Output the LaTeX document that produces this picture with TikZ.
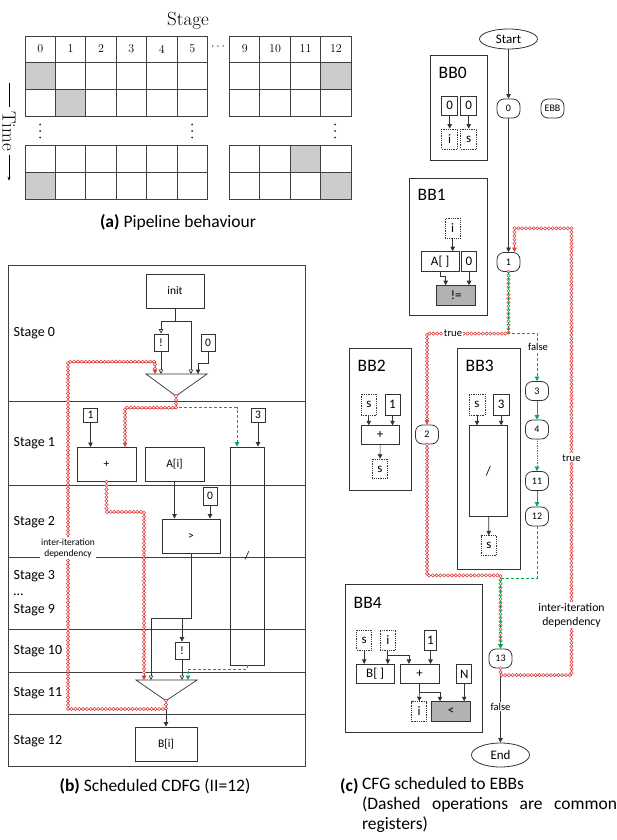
\documentclass[tikz,border=0pt]{standalone}
\usepackage{fontspec}
\setsansfont{Carlito}
\usepackage{tikz}
\usetikzlibrary{arrows.meta,shapes.geometric,decorations.markings,calc}

\definecolor{deprd}{RGB}{222,60,60}
\definecolor{flowgr}{RGB}{0,168,80}

\tikzset{
  wire/.style={draw=black!80, line width=0.7pt},
  tri/.style={-{Triangle[length=4.5pt,width=4.5pt]}},
  otri/.style={-{Triangle[open,length=4.5pt,width=4.5pt]}},
  dep/.style={draw=deprd, line width=0.4pt, -{Triangle[length=4.5pt,width=4.5pt]},
    decoration={markings, mark=between positions 0 and -5pt step 3.8pt with
      {\draw[deprd, fill=white, line width=0.55pt] (0,0) circle (1.65pt);}},
    postaction={decorate}},
  flow/.style={draw=flowgr, line width=0.7pt, dash pattern=on 3pt off 2pt,
    -{Triangle[length=4.5pt,width=4.5pt]}},
}

\begin{document}
\begin{tikzpicture}[x=1pt, y=-1pt, font=\sffamily, line width=0.8pt,
  cell/.style={draw=black!75, line width=0.9pt},
  hdr/.style={font=\rmfamily\fontsize{12}{14}\selectfont},
  frame/.style={draw=black!75, line width=0.9pt},
  stagelab/.style={anchor=west, font=\sffamily\fontsize{14}{16}\selectfont},
  opb/.style={draw=black!80, inner sep=0pt, font=\sffamily\fontsize{11.5}{13}\selectfont},
  reg/.style={draw=black!80, inner sep=0pt, font=\sffamily\fontsize{13}{14}\selectfont},
  creg/.style={reg, densely dotted},
  greyop/.style={reg, fill=gray!60},
  ebbnode/.style={draw=black!80, rounded corners=7pt, minimum width=23pt, minimum height=19pt,
    inner sep=0pt, font=\sffamily\fontsize{10}{11}\selectfont},
  termnode/.style={ellipse, draw=black!80, minimum width=58pt, minimum height=20pt,
    inner sep=0pt, font=\sffamily\fontsize{13}{14}\selectfont},
  bblab/.style={anchor=west, font=\sffamily\fontsize{17.5}{19}\selectfont},
  lab/.style={fill=white, inner sep=1pt, font=\sffamily\fontsize{10.6}{12}\selectfont},
  caption/.style={font=\sffamily\fontsize{17.5}{20}\selectfont}]

\useasboundingbox (0,0) rectangle (617,840);

%%%% (a) pipeline table
\node[font=\rmfamily\fontsize{19}{21}\selectfont] (stagetitle) at (188,21) {Stage};

 \def\cw{30.4};
 \def\rh{27.3};
 \def\cx{25};
    % shaded cells
    \foreach \bx/\i/\y in {25/0/62, 25/1/89.3, 229.5/3/62, 229.5/2/145, 25/0/172.3, 229.5/3/172.3}{
        \fill[gray!40] (\bx+\i*\cw,\y) rectangle (\bx+\i*\cw+\cw,\y+\rh);
    }
    \foreach \i/\num in {0/0,1/1,2/2,3/3,4/4,5/5}{
        \draw[cell] (\cx+\i*\cw,36) rectangle (\cx+\i*\cw+\cw,62);
        \node[hdr] (hl\num) at (\cx+\i*\cw+\cw/2,49) {\num};
        \foreach \y in {62,89.3,145,172.3}
            \draw[cell] (\cx+\i*\cw,\y) rectangle (\cx+\i*\cw+\cw,\y+\rh);
    }

 \def\cx{229.5};
    \foreach \i/\num in {0/9,1/10,2/11,3/12}{
        \draw[cell] (\cx+\i*\cw,36) rectangle (\cx+\i*\cw+\cw,62);
        \node[hdr] (hr\num) at (\cx+\i*\cw+\cw/2,49) {\num};
        \foreach \y in {62,89.3,145,172.3}
            \draw[cell] (\cx+\i*\cw,\y) rectangle (\cx+\i*\cw+\cw,\y+\rh);
    }

\node[hdr] (hdots) at (218,47) {$\cdots$};
% vertical dots
\foreach \x in {40,192,335}
    \foreach \y in {124.5,131,137.5}
        \fill[black!85] (\x,\y) circle (1pt);

\node[font=\rmfamily\fontsize{19}{21}\selectfont, rotate=-90] (time) at (9,131) {Time};
\draw[line width=0.6pt] (time.west) -- ++(0,-24);
\draw[line width=0.6pt, -{Stealth[length=4pt]}] (time.east) -- ++(0,26);

\node[caption] (capA) at (178,222) {\textbf{(a)} Pipeline behaviour};

%%%% (b) scheduled CDFG
\draw[frame] (8,265.7) rectangle (305,766);
\foreach \y in {401,485,557.7,629,672,714}
    \draw[frame] (8,\y) -- (305,\y);
\foreach \k/\y/\txt in {0/333/Stage 0,1/443/Stage 1,2/522/Stage 2,3/576/Stage 3,4/595/{\ldots},9/610/Stage 9,10/651/Stage 10,11/693/Stage 11,12/741/Stage 12}
    \node[stagelab] (st\k) at (10,\y) {\txt};

\node[opb, minimum width=58pt, minimum height=34pt] (init) at (175,291) {init};
\node[opb, minimum width=14pt, minimum height=17pt] (notA) at (161,342.5) {!};
\node[opb, minimum width=14pt, minimum height=17pt] (zeroA) at (208,342.5) {0};

%mux of stage 0
\coordinate (muxA) at (176,396);
\draw[wire] (146,374) -- (207,374) -- (muxA) -- cycle;
\coordinate (muxAi1) at (155,374);
\coordinate (muxAi2) at (161,374);
\coordinate (muxAi3) at (191,374);
\coordinate (muxAi4) at (198,374);

\node[opb, minimum width=14pt, minimum height=14pt] (oneB) at (90.5,415) {1};
\node[opb, minimum width=59pt, minimum height=34pt] (addB) at (106.5,464.5) {+};
\node[opb, minimum width=59pt, minimum height=34pt] (loadA) at (174.5,464.5) {A[i]};
\node[opb, minimum width=14pt, minimum height=14pt] (threeB) at (258,415) {3};
\node[opb, minimum width=34pt, minimum height=218pt] (divB) at (247,556) {/};
\node[opb, minimum width=14pt, minimum height=18pt] (zeroB) at (210,496) {0};
\node[opb, minimum width=58pt, minimum height=34pt] (gtB) at (191,536) {>};
\node[opb, minimum width=14pt, minimum height=17pt] (notB) at (182,650.5) {!};
\node[opb, minimum width=62pt, minimum height=34pt] (storeB) at (166,744) {B[i]};

%mux of stage 11
\coordinate (muxB) at (166,700.7);
\draw[wire] (136,680) -- (197,680) -- (muxB) -- cycle;
\coordinate (muxBi1) at (144,680);
\coordinate (muxBi2) at (151,680);
\coordinate (muxBi3) at (182,680);
\coordinate (muxBi4) at (188,680);

\draw[wire,otri] (init.south) -- ++(0,13) -| (notA.north);
\draw[wire,otri] (init.south) -- ++(0,13) -| (muxAi3);
\draw[wire,otri] (notA) -- (muxAi2);
\draw[wire,tri] (zeroA.south) -- ++(0,12) -| (muxAi4);
\draw[wire,tri] (oneB) -- (oneB |- addB.north);
\draw[wire,tri] (threeB) -- (threeB |- divB.north);
\draw[wire,tri] (loadA.south) -- (loadA.south |- gtB.north);
\draw[wire,tri] (zeroB) -- (zeroB |- gtB.north);
\draw[wire,otri] (gtB.south) -- ++(0,65) -| (muxBi2);
\draw[wire,tri] (gtB.south) -- ++(0,65) -| (notB.north);
\draw[wire,otri] (notB) -- (muxBi3);
\draw[wire,tri] (muxB) -- (storeB);

\draw[flow] (muxA) -- ++(0,11.7) -| ([xshift=-10pt]divB.north);
\draw[flow] (divB.south) -- ++(0,4) -| (muxBi4);
\draw[dep] (muxA) -- ++(0,11.7) -| ([xshift=18.5pt]addB.north);
\draw[dep] (addB.south) -- ++(0,30) -| (muxBi1);
\draw[dep] (muxB) -- ++(0,8.3) -| (68,361.7) -| (muxAi1);

\node[lab, align=center, font=\sffamily\fontsize{9.5}{11}\selectfont] (itdepB) at (68,548) {inter-iteration\\dependency};

\node[caption] (capB) at (155,786) {\textbf{(b)} Scheduled CDFG (II=12)};

%%%% (c) CFG with EBBs
% basic blocks
\draw[wire] (430.7,55.3) rectangle (487.7,160);
\node[bblab] (lbb0) at (435,72.7) {BB0};
\node[reg, minimum width=16pt, minimum height=19pt] (zi0) at (449.7,105.5) {0};
\node[reg, minimum width=16pt, minimum height=19pt] (zs0) at (468.7,105.5) {0};
\node[creg, minimum width=16pt, minimum height=20pt] (ri0) at (449.7,139) {i};
\node[creg, minimum width=16pt, minimum height=20pt] (rs0) at (468.7,139) {s};
\draw[wire,tri] (zi0) -- (ri0);
\draw[wire,tri] (zs0) -- (rs0);

\draw[wire] (409.3,178.3) rectangle (487.7,315.7);
\node[bblab] (lbb1) at (414,195) {BB1};
\node[creg, minimum width=15pt, minimum height=20pt] (ri1) at (452.7,228.3) {i};
\node[reg, minimum width=38pt, minimum height=19.4pt] (arr1) at (440.2,261.3) {A[ ]};
\node[reg, minimum width=15.4pt, minimum height=19.4pt] (z1) at (469,261.3) {0};
\node[greyop, minimum width=39pt, minimum height=19.4pt] (ne1) at (456.2,295.3) {!=};
\draw[wire,tri] (ri1) -- (ri1 |- arr1.north);
\draw[wire,tri] (arr1.south) -- ++(0,5) -| ([xshift=-10.5pt]ne1.north);
\draw[wire,tri] (z1) -- (z1 |- ne1.north);

\draw[wire] (349.3,348.3) rectangle (411.7,490);
\node[bblab] (lbb2) at (354,365.7) {BB2};
\node[creg, minimum width=15.7pt, minimum height=21pt] (rs2) at (368.8,404.5) {s};
\node[reg, minimum width=15pt, minimum height=21pt] (one2) at (392.5,404.5) {1};
\node[reg, minimum width=38.3pt, minimum height=18.6pt] (add2) at (380.2,435) {+};
\node[creg, minimum width=15.4pt, minimum height=19.7pt] (rs2b) at (380,469) {s};
\draw[wire,tri] (rs2) -- (rs2 |- add2.north);
\draw[wire,tri] (one2) -- (one2 |- add2.north);
\draw[wire,tri] (add2) -- (rs2b);

\draw[wire] (457.7,348.3) rectangle (520.7,569.3);
\node[bblab] (lbb3) at (462,365.7) {BB3};
\node[creg, minimum width=16pt, minimum height=21pt] (rs3) at (477,404.5) {s};
\node[reg, minimum width=15.7pt, minimum height=21pt] (three3) at (501.2,404.5) {3};
\node[reg, minimum width=38.4pt, minimum height=91pt] (div3) at (488.5,471.2) {/};
\node[creg, minimum width=15.7pt, minimum height=19.3pt] (rs3b) at (488.8,545.3) {s};
\draw[wire,tri] (rs3) -- (rs3 |- div3.north);
\draw[wire,tri] (three3) -- (three3 |- div3.north);
\draw[wire,tri] (div3) -- (rs3b);

\draw[wire] (345,584) rectangle (482.7,732.3);
\node[bblab] (lbb4) at (350,602.7) {BB4};
\node[creg, minimum width=15pt, minimum height=20pt] (rs4) at (364.2,640) {s};
\node[creg, minimum width=15.7pt, minimum height=20pt] (ri4) at (387.8,640) {i};
\node[reg, minimum width=12pt, minimum height=20pt] (one4) at (430.5,640) {1};
\node[reg, minimum width=38.3pt, minimum height=19pt] (str4) at (375.2,673.8) {B[ ]};
\node[reg, minimum width=39pt, minimum height=19pt] (add4) at (419.5,673.8) {+};
\node[reg, minimum width=15pt, minimum height=18.3pt] (nn4) at (464.2,674) {N};
\node[creg, minimum width=15pt, minimum height=19.3pt] (ri4b) at (419.2,711.3) {i};
\node[greyop, minimum width=39pt, minimum height=19.3pt] (lt4) at (451.2,711.3) {<};
\draw[wire,tri] (rs4) -- (rs4 |- str4.north);
\draw[wire,tri] (ri4) -- (ri4 |- str4.north);
\draw[wire,tri] (ri4.south) -- ++(0,5) -| ([xshift=-10.5pt]add4.north);
\draw[wire,tri] (one4) -- (one4 |- add4.north);
\draw[wire,tri] (add4) -- (ri4b);
\draw[wire,tri] (add4.south) -- ++(0,8.5) -| ([xshift=-11.2pt]lt4.north);
\draw[wire,tri] (nn4) -- (nn4 |- lt4.north);

% EBB control flow
\node[termnode] (start) at (508.5,39) {Start};
\node[ebbnode] (n0) at (508.5,108.5) {0};
\node[ebbnode] (ebb) at (552.5,108.5) {EBB};
\node[ebbnode] (n1) at (508.5,262) {1};
\node[ebbnode] (n2) at (427,434.5) {2};
\node[ebbnode] (n3) at (537,391) {3};
\node[ebbnode] (n4) at (537,429.5) {4};
\node[ebbnode] (n11) at (537,481) {11};
\node[ebbnode] (n12) at (537,516.5) {12};
\node[ebbnode] (n13) at (500.5,658.5) {13};
\node[termnode, minimum height=24pt] (end) at (500.5,755) {End};

\draw[wire,tri] (start) -- (n0);
\draw[wire,tri] (n0) -- (n1);
\draw[wire,tri] (n13) -- (end);

\draw[dep] (n1.south) -- ++(0,61.7) -| (n2.north);
\draw[flow] (n1.south) -- ++(0,61.7) -| (n3.north);
\draw[flowgr, line width=0.7pt, tri] (n3) -- (n4);
\draw[flowgr, line width=0.7pt, densely dotted, tri] (n4) -- (n11);
\draw[flowgr, line width=0.7pt, tri] (n11) -- (n12);
\draw[dep] (n2.south) -- ++(0,131) -| (n13.north);
\draw[flow] (n12.south) -- ++(0,52) -| (n13.north);
\draw[dep] (n13.south) -- ++(0,6.7) -| (571.5,228.3) -| ([xshift=6pt]n1.north);

\node[lab] (ltrue1) at (453,332.7) {true};
\node[lab] (lfalse1) at (538,347.3) {false};
\node[lab] (ltrue2) at (571.5,457.7) {true};
\node[lab] (lfalse2) at (500.5,706.7) {false};
\node[lab, align=center, font=\sffamily\fontsize{11.7}{14}\selectfont] (itdepC) at (571.5,615) {inter-iteration\\dependency};

\node[caption, anchor=base west] (capC) at (336.5,791) {\textbf{(c)}};
\node[caption, anchor=north west, inner sep=0pt, text width=255pt, align=justify] (capCtxt) at (361.7,777)
    {CFG scheduled to EBBs\\(Dashed operations are common registers)};

\end{tikzpicture}
\end{document}
